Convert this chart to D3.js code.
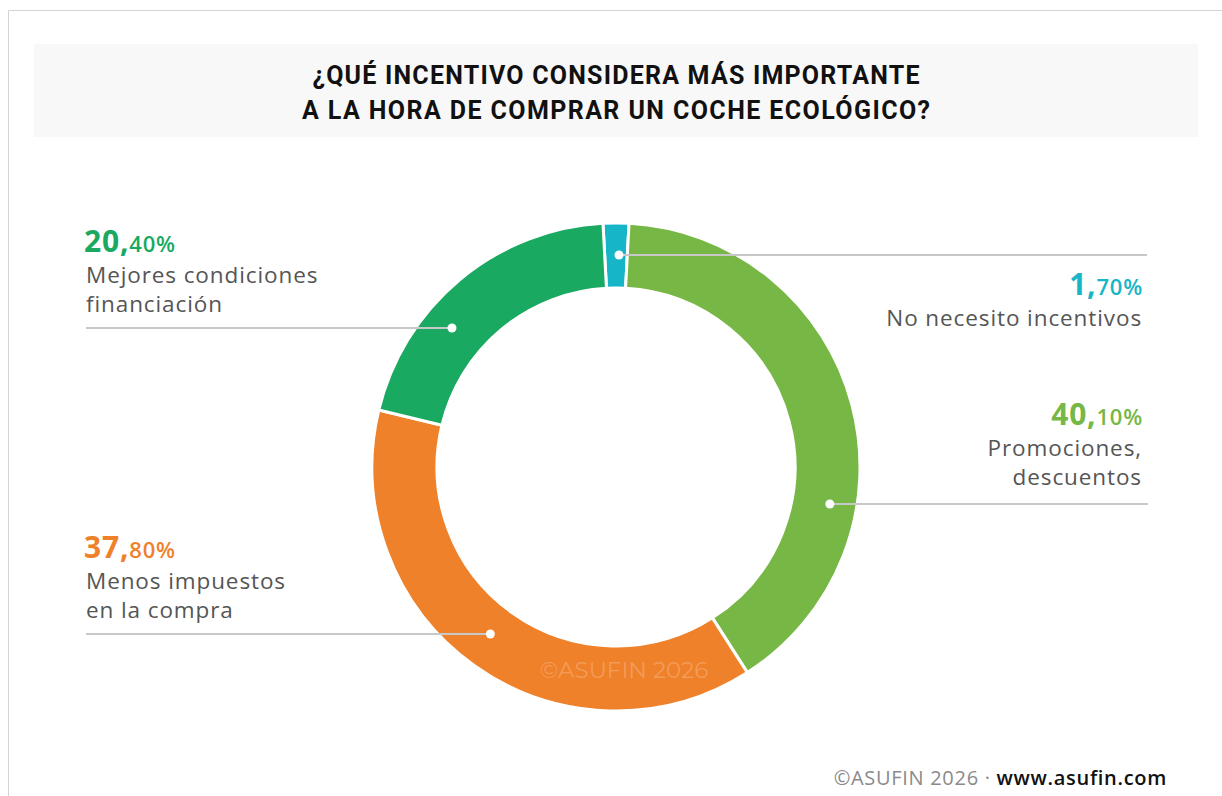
<!DOCTYPE html>
<html><head><meta charset="utf-8">
<script src="https://cdn.jsdelivr.net/npm/d3@7"></script>
<style>
html,body{margin:0;padding:0;background:#fff;}
svg{display:block;}
</style></head>
<body>
<svg id="chart" width="1222" height="796"></svg>
<script>
// ---- data ----
const categories = ["No necesito incentivos", "Promociones, descuentos", "Menos impuestos en la compra", "Mejores condiciones financiación"];
const labelLines = [["No necesito incentivos"], ["Promociones,", "descuentos"], ["Menos impuestos", "en la compra"], ["Mejores condiciones", "financiación"]];
const values = [1.7, 40.1, 37.8, 20.4];
const colors = ["#17b5c8", "#76b745", "#ef812a", "#19a960"];
const titleLines = ["¿QUÉ INCENTIVO CONSIDERA MÁS IMPORTANTE", "A LA HORA DE COMPRAR UN COCHE ECOLÓGICO?"];
const watermark = "©ASUFIN 2026";
const footerA = "©ASUFIN 2026 · ";
const footerB = "www.asufin.com";

// ---- layout ----
const W = 1222, H = 796;
const cx = 616, cy = 467, rOuter = 244, rInner = 179;
// leader dot radius (distance from centre) per label
const layout = [
  {side: "right", lineY: 255, rDot: 212, textX: 1143, pctY: 295, lineEnd: 1147},
  {side: "right", lineY: 504, rDot: 217, textX: 1143, pctY: 425, lineEnd: 1148},
  {side: "left",  lineY: 634, rDot: 209, textX: 84,   pctY: 558, lineEnd: 86},
  {side: "left",  lineY: 328, rDot: 215, textX: 84,   pctY: 252, lineEnd: 86}
];
const titleWidths = [607, 628];
const FONT = "'Open Sans', 'Noto Sans', sans-serif";

const svg = d3.select("#chart");

// frame
svg.append("path").attr("d", `M8.5,${H} L8.5,10.5 L${W},10.5`).attr("fill","none").attr("stroke","#d4d4d4").attr("stroke-width",1);

// title box
svg.append("rect").attr("x",34).attr("y",44).attr("width",1164).attr("height",93).attr("fill","#f8f8f8");
svg.append("g").selectAll("text").data(titleLines).join("text")
  .attr("x", 616).attr("y", (d,i) => 84 + i*35)
  .attr("text-anchor","middle")
  .attr("textLength", (d,i) => titleWidths[i]).attr("lengthAdjust","spacing")
  .style("font-family","'Roboto', sans-serif").style("font-weight",700).style("font-size","25px")
  .attr("fill","#111").text(d => d);

// pie
const total = d3.sum(values);
const startA = -(values[0] / total) * Math.PI; // first slice centred at top
const pie = d3.pie().sort(null).value(d => d).startAngle(startA).endAngle(startA + 2*Math.PI);
const arcs = pie(values);
const arc = d3.arc().innerRadius(rInner).outerRadius(rOuter);
const g = svg.append("g").attr("transform", `translate(${cx},${cy})`);
g.selectAll("path").data(arcs).join("path")
  .attr("d", arc).attr("fill", (d,i) => colors[i])
  .attr("stroke","#fff").attr("stroke-width",3).attr("stroke-linejoin","round");

// watermark
svg.append("text").attr("x", 624).attr("y", 678).attr("text-anchor","middle")
  .style("font-family","'Montserrat','Lato',sans-serif").style("font-size","23px")
  .attr("fill","#ffffff").attr("fill-opacity",0.22).text(watermark);

// leaders + labels
const fmt = d3.format(".2f");
arcs.forEach((a, i) => {
  const L = layout[i];
  const dy = L.lineY - cy;
  const mid = (a.startAngle + a.endAngle) / 2;
  let dotX;
  if (Math.abs(Math.sin(mid)) < 0.1) dotX = cx + 3;
  else dotX = cx + Math.sign(Math.sin(mid)) * Math.sqrt(Math.max(0, L.rDot*L.rDot - dy*dy));
  svg.append("line").attr("x1", dotX).attr("x2", L.lineEnd).attr("y1", L.lineY).attr("y2", L.lineY)
    .attr("stroke","#c8c8c8").attr("stroke-width",2);
  svg.append("circle").attr("cx", dotX).attr("cy", L.lineY).attr("r", 4.5).attr("fill","#fff");

  const anchor = L.side === "right" ? "end" : "start";
  const s = fmt(values[i]).split(".");
  const t = svg.append("text").attr("x", L.textX).attr("y", L.pctY).attr("text-anchor", anchor)
    .style("font-family", FONT).attr("fill", colors[i]).style("letter-spacing","0.8px");
  t.append("tspan").style("font-size","30px").style("font-weight",700).text(s[0] + ",");
  t.append("tspan").style("font-size","22px").style("font-weight",600).text(s[1] + "%");

  labelLines[i].forEach((ln, j) => {
    svg.append("text").attr("x", L.side === "right" ? L.textX - 1 : L.textX + 2)
      .attr("y", L.pctY + 31 + j*29).attr("text-anchor", anchor)
      .style("font-family", FONT).style("font-size","22.5px").style("letter-spacing","0.9px")
      .attr("fill","#555555").text(ln);
  });
});

// footer
const ft = svg.append("text").attr("x", 1167).attr("y", 785).attr("text-anchor","end")
  .style("font-family", FONT).style("font-size","20px").style("letter-spacing","0.7px");
ft.append("tspan").attr("fill","#8a8a8a").text(footerA);
ft.append("tspan").attr("fill","#111").style("font-weight",600).text(footerB);
</script>
</body></html>
